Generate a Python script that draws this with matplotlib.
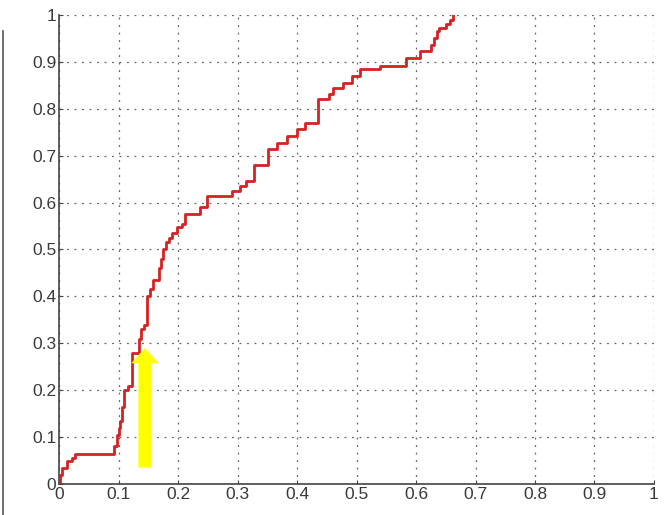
import matplotlib
matplotlib.use("Agg")
import matplotlib.pyplot as plt
from matplotlib.lines import Line2D
import numpy as np

cdf_x = [0.000, 0.002, 0.005, 0.013, 0.021, 0.027, 0.093, 0.097, 0.100, 0.103,
         0.106, 0.109, 0.116, 0.122, 0.134, 0.137, 0.143, 0.148, 0.153, 0.158,
         0.168, 0.171, 0.175, 0.180, 0.185, 0.190, 0.198, 0.206, 0.212, 0.237,
         0.249, 0.290, 0.304, 0.314, 0.327, 0.352, 0.366, 0.383, 0.400, 0.413,
         0.436, 0.453, 0.461, 0.478, 0.492, 0.506, 0.540, 0.584, 0.607, 0.626,
         0.630, 0.635, 0.638, 0.651, 0.657, 0.663]
cdf_y = [0.000, 0.020, 0.035, 0.050, 0.055, 0.065, 0.080, 0.105, 0.120, 0.135,
         0.165, 0.200, 0.210, 0.280, 0.310, 0.330, 0.340, 0.400, 0.415, 0.435,
         0.460, 0.480, 0.500, 0.515, 0.525, 0.535, 0.547, 0.555, 0.575, 0.590,
         0.615, 0.625, 0.635, 0.645, 0.680, 0.715, 0.728, 0.742, 0.756, 0.770,
         0.820, 0.831, 0.845, 0.856, 0.870, 0.884, 0.891, 0.909, 0.923, 0.935,
         0.950, 0.965, 0.973, 0.980, 0.990, 1.000]

ticks = np.round(np.arange(0, 1.01, 0.1), 1)
tick_labels = ["0", "0.1", "0.2", "0.3", "0.4", "0.5", "0.6", "0.7", "0.8", "0.9", "1"]

# yellow arrow annotation (start, tip)
arrow_from = (0.1445, 0.035)
arrow_to = (0.1445, 0.29)

plt.rcParams["font.family"] = ["Liberation Sans", "DejaVu Sans"]

fig = plt.figure(figsize=(6.67, 5.15), dpi=100)
ax = fig.add_axes([0.0885, 0.0602, 0.8920, 0.9107])

ax.step(cdf_x, cdf_y, where="post", color="#d42323", linewidth=2.0, zorder=3)

ax.set_xlim(0, 1)
ax.set_ylim(0, 1)
ax.set_xticks(ticks)
ax.set_yticks(ticks)
ax.set_xticklabels(tick_labels)
ax.set_yticklabels(tick_labels)
ax.tick_params(direction="in", length=3, width=0.8, color="#444444",
               labelsize=12.5, labelcolor="#3a3a3a", pad=2)

ax.grid(True, color="#666666", linestyle=(0, (1.5, 4.5)), linewidth=0.9)
for side in ["top", "right"]:
    ax.spines[side].set_visible(False)
for side in ["left", "bottom"]:
    ax.spines[side].set_color("#444444")
    ax.spines[side].set_linewidth(1.2)

ax.annotate("", xy=arrow_to, xytext=arrow_from,
            arrowprops=dict(arrowstyle="simple,head_width=2.0,head_length=1.1,tail_width=0.95",
                            fc="#ffff00", ec="none", shrinkA=0, shrinkB=0),
            zorder=4)

# thin border at the left edge of the picture
fig.add_artist(Line2D([0.004, 0.004], [0.0, 0.94], color="#555555", linewidth=1.2))

fig.savefig("out.png", dpi=100)
